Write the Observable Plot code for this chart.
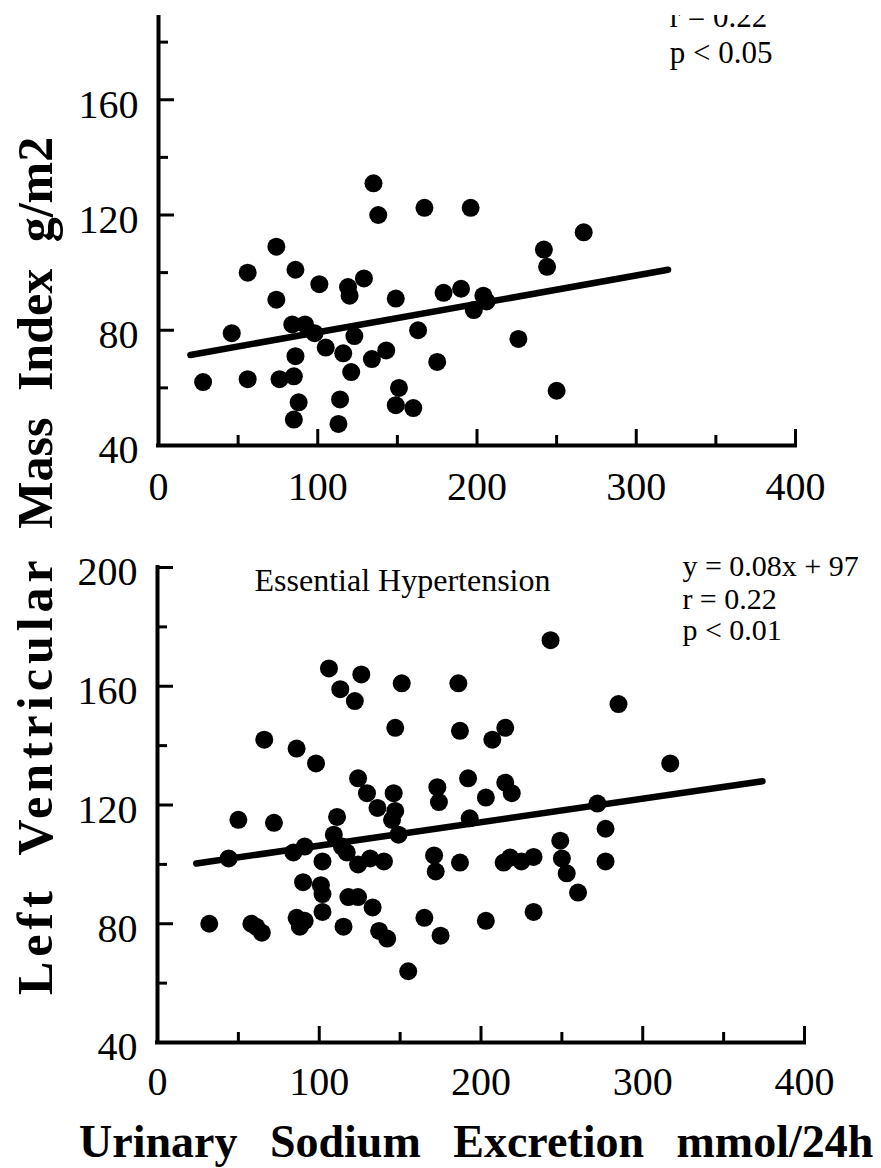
<!DOCTYPE html>
<html>
<head>
<meta charset="utf-8">
<script src="https://cdn.jsdelivr.net/npm/d3@7"></script>
<script src="https://cdn.jsdelivr.net/npm/@observablehq/plot@0.6"></script>
<style>
  html, body { margin: 0; padding: 0; background: #fff; }
  #fig { position: relative; width: 881px; height: 1168px; overflow: hidden; background: #fff; }
  #topWrap { position: absolute; left: 0; top: 15px; width: 881px; height: 530px; overflow: hidden; }
  #topWrap svg { position: absolute; left: 0; top: -71px; }
  #bottomWrap { position: absolute; left: 0; top: 527px; width: 881px; }
  #bottomWrap svg { display: block; }
  #ylab { position: absolute; left: 10px; top: 995px; transform-origin: 0 0; transform: rotate(-90deg);
          font: bold 50px 'Liberation Serif', 'Times New Roman', serif; line-height: 1; white-space: nowrap;
          word-spacing: 14px; color: #000; }
  #ylab .wide { letter-spacing: 5px; }
  #xlab { position: absolute; left: 79px; top: 1119px;
          font: bold 46px 'Liberation Serif', 'Times New Roman', serif; line-height: 1; white-space: nowrap;
          word-spacing: 21px; color: #000; }
</style>
</head>
<body>
<div id="fig">
  <div id="topWrap"></div>
  <div id="bottomWrap"></div>
  <div id="ylab"><span class="wide">Left Ventricular</span> Mass Index g/m2</div>
  <div id="xlab">Urinary Sodium Excretion mmol/24h</div>
</div>
<script>
// ---- Data: top panel (sodium excretion vs LVMI) ----
const topX = [135, 138, 167, 196, 74, 56, 86, 101, 119, 120, 129, 149, 74, 179, 190,
  46, 84, 92, 98, 105, 123, 163, 86, 116, 121, 134, 143, 175, 28, 56, 76, 85, 88, 85,
  114, 113, 151, 149, 160, 198, 204, 206, 242, 244, 267, 226, 250];
const topY = [131, 120, 122.5, 122.5, 109, 100, 101, 96, 95, 92, 98, 91, 90.6, 93, 94.4,
  79, 82, 82, 79, 74, 78, 80, 71, 72, 65.5, 70, 73, 69, 62, 63, 63, 64, 55, 49,
  56, 47.5, 60, 54, 53, 87, 92, 90, 108, 102, 114, 77, 59];
const topFitX = [20, 320];
const topFitY = [71.4, 101];

// ---- Data: bottom panel (Essential Hypertension) ----
const bottomX = [106, 126, 113, 122, 151, 186, 147, 187, 66, 86, 98, 124, 129.5, 136, 146, 147,
  145, 149, 173, 174, 192, 203, 50, 72, 111, 109, 44, 84, 91, 102, 117, 124, 131.5, 140,
  171, 172, 187, 193, 114,
  32, 58, 61, 64.5, 86, 91, 88, 90, 101, 102, 102, 118, 124, 133, 115, 137, 142, 165, 175, 155, 203,
  243, 285, 215, 207, 317, 215, 219, 272, 277, 277, 249, 250, 253, 260, 214, 218, 225, 232.5, 232.5];
const bottomY = [166, 164, 159, 155, 161, 161, 146, 145, 142, 139, 134, 129, 124, 119, 124, 118,
  115, 110, 126, 121, 129, 122.5, 115, 114, 116, 110, 102, 104, 106, 101, 104, 100, 102, 101,
  103, 97.6, 100.6, 115.5, 106,
  80, 80, 79, 77, 82, 81, 79, 94, 93, 90, 84, 89, 89, 85.5, 79, 77.6, 75, 82, 76, 64, 81,
  175.5, 154, 146, 142, 134, 127.5, 124, 120.5, 112, 101, 108, 102, 97, 90.5, 100.6, 102.3, 101, 102.5, 84];
const bottomFitX = [24, 374];
const bottomFitY = [100.3, 128];

// ---- Axis ticks ----
const xLabels = [0, 100, 200, 300, 400];
const xMajorTicks = [100, 200, 300, 400];
const xMinorTicks = [50, 150, 250, 350];
const topYLabels = [40, 80, 120, 160];
const bottomYLabels = [40, 80, 120, 160, 200];
const yMajorTicks = [80, 120, 160, 200];
const yMinorTicks = [60, 100, 140, 180];

// ---- Annotations ----
const topNotes = ["r = 0.22", "p < 0.05"];
const bottomTitle = "Essential Hypertension";
const bottomNotes = ["y = 0.08x + 97", "r = 0.22", "p < 0.01"];

const serif = "'Liberation Serif', 'Times New Roman', Times, serif";
const rows = (xs, ys) => xs.map((x, i) => ({x, y: ys[i]}));
const xDomain = [0, 400];
const yDomain = [40, 200];

// frame: axis lines, inward ticks (lengths given in pixels, converted through the scale ratio), labels
function frameMarks(dims, labelPad, yLabels) {
  const ux = (xDomain[1] - xDomain[0]) / (dims.width - dims.marginLeft - dims.marginRight);
  const uy = (yDomain[1] - yDomain[0]) / (dims.height - dims.marginTop - dims.marginBottom);
  const major = 16, minor = 10;
  return [
    Plot.ruleX([0], {y1: 40, y2: 200, strokeWidth: 4, strokeLinecap: "square"}),
    Plot.ruleY([40], {x1: 0, x2: 400, strokeWidth: 4, strokeLinecap: "square"}),
    Plot.ruleX(xMajorTicks, {x: d => d, y1: 40, y2: 40 + major * uy, strokeWidth: 3}),
    Plot.ruleX(xMinorTicks, {x: d => d, y1: 40, y2: 40 + minor * uy, strokeWidth: 3}),
    Plot.ruleY(yMajorTicks, {y: d => d, x1: 0, x2: major * ux, strokeWidth: 3}),
    Plot.ruleY(yMinorTicks, {y: d => d, x1: 0, x2: minor * ux, strokeWidth: 3}),
    Plot.axisX(xLabels, {tickSize: 0, tickPadding: labelPad, fontSize: 40, fontFamily: serif, label: null}),
    Plot.axisY(yLabels, {tickSize: 0, tickPadding: 20, fontSize: 40, fontFamily: serif, dy: 5, label: null})
  ];
}

const topDims = {width: 881, height: 581, marginLeft: 158, marginRight: 86, marginTop: 40, marginBottom: 80};
const topPlot = Plot.plot({
  ...topDims,
  x: {domain: xDomain, label: null},
  y: {domain: yDomain, label: null},
  style: {background: "transparent", fontFamily: serif, fontSize: "40px", color: "black", overflow: "visible"},
  marks: [
    ...frameMarks(topDims, 26, topYLabels),
    Plot.line(rows(topFitX, topFitY), {x: "x", y: "y", stroke: "black", strokeWidth: 6.5}),
    Plot.dot(rows(topX, topY), {x: "x", y: "y", r: 9, fill: "black", stroke: "none"}),
    Plot.text([topNotes[0]], {x: 321, y: 185.1, text: d => d, textAnchor: "start", lineAnchor: "bottom", fontSize: 31, fontFamily: serif}),
    Plot.text([topNotes[1]], {x: 321, y: 172.6, text: d => d, textAnchor: "start", lineAnchor: "bottom", fontSize: 31, fontFamily: serif})
  ]
});
document.getElementById("topWrap").appendChild(topPlot);

const bottomDims = {width: 881, height: 595, marginLeft: 157, marginRight: 77, marginTop: 40, marginBottom: 80};
const bottomPlot = Plot.plot({
  ...bottomDims,
  x: {domain: xDomain, label: null},
  y: {domain: yDomain, label: null},
  style: {background: "transparent", fontFamily: serif, fontSize: "40px", color: "black", overflow: "visible"},
  marks: [
    ...frameMarks(bottomDims, 24, bottomYLabels),
    Plot.line(rows(bottomFitX, bottomFitY), {x: "x", y: "y", stroke: "black", strokeWidth: 6.5}),
    Plot.dot(rows(bottomX, bottomY), {x: "x", y: "y", r: 9, fill: "black", stroke: "none"}),
    Plot.text([bottomTitle], {x: 60, y: 192.1, text: d => d, textAnchor: "start", lineAnchor: "bottom", fontSize: 32, fontFamily: serif}),
    Plot.text([bottomNotes[0]], {x: 324.5, y: 197.1, text: d => d, textAnchor: "start", lineAnchor: "bottom", fontSize: 30, fontFamily: serif}),
    Plot.text([bottomNotes[1]], {x: 324.5, y: 186, text: d => d, textAnchor: "start", lineAnchor: "bottom", fontSize: 30, fontFamily: serif}),
    Plot.text([bottomNotes[2]], {x: 324.5, y: 175.6, text: d => d, textAnchor: "start", lineAnchor: "bottom", fontSize: 30, fontFamily: serif})
  ]
});
document.getElementById("bottomWrap").appendChild(bottomPlot);
</script>
</body>
</html>
